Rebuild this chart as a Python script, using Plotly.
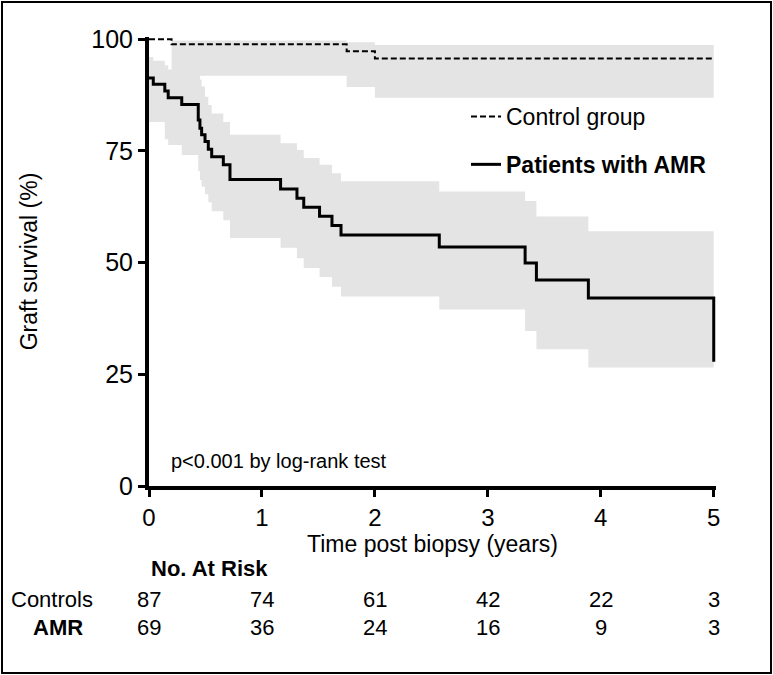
import plotly.graph_objects as go

# ---- data ----
ctrl_t = [0, 0.20, 1.75, 2.00, 5.00]
ctrl_s = [100, 98.85, 97.3, 95.7, 95.7]
ctrl_lo = [100, 91.8, 89.3, 86.9, 86.9]
ctrl_hi = [100, 99.7, 99.3, 98.7, 98.7]

amr_t = [0, 0.038, 0.14, 0.17, 0.29, 0.436, 0.451, 0.466, 0.496, 0.525, 0.555,
         0.658, 0.717, 1.165, 1.31, 1.37, 1.51, 1.62, 1.70, 2.57, 3.33, 3.43,
         3.89, 5.00, 5.00]
amr_s = [91.3, 89.9, 88.4, 86.9, 85.4, 81.9, 80.1, 78.6, 77.1, 75.4, 73.7,
         71.9, 68.6, 66.5, 64.4, 62.4, 60.4, 58.3, 56.2, 53.5, 49.9, 46.1,
         42.1, 42.1, 27.8]
amr_lo = [81.5, 81.5, 77.6, 76.3, 74.1, 70.5, 68.5, 67.0, 65.3, 63.5, 61.5,
          59.5, 55.5, 53.3, 51.0, 48.8, 46.8, 44.6, 42.4, 39.5, 34.7, 30.6,
          26.5, 26.5, 26.5]
amr_hi = [96.0, 95.2, 94.2, 93.2, 92.4, 92.0, 91.0, 89.4, 87.1, 85.3, 83.4,
          81.5, 78.6, 76.7, 75.2, 73.4, 71.9, 70.0, 68.2, 65.9, 63.8, 60.3,
          57.0, 57.0, 57.0]

risk_times = [0, 1, 2, 3, 4, 5]
risk_controls = [87, 74, 61, 42, 22, 3]
risk_amr = [69, 36, 24, 16, 9, 3]

x_ticks = [0, 1, 2, 3, 4, 5]
y_ticks = [0, 25, 50, 75, 100]

FONT = "Liberation Sans, Arial, sans-serif"
BAND = "#e4e4e4"

fig = go.Figure()

# confidence bands
for lo, hi, t in [(amr_lo, amr_hi, amr_t), (ctrl_lo, ctrl_hi, ctrl_t)]:
    fig.add_trace(go.Scatter(x=t, y=lo, mode="lines", line=dict(width=0, shape="hv", color=BAND),
                             showlegend=False, hoverinfo="skip"))
    fig.add_trace(go.Scatter(x=t, y=hi, mode="lines", line=dict(width=0, shape="hv", color=BAND),
                             fill="tonexty", fillcolor=BAND, showlegend=False, hoverinfo="skip"))

fig.add_trace(go.Scatter(x=ctrl_t, y=ctrl_s, mode="lines", name="Control group",
                         legendgroup="c",
                         line=dict(color="black", width=2, dash="6px,3px", shape="hv")))
fig.add_trace(go.Scatter(x=amr_t, y=amr_s, mode="lines", name="<b>Patients with AMR</b>",
                         legendgroup="a",
                         line=dict(color="black", width=3, shape="hv")))

# p-value text
fig.add_annotation(x=0.18, y=5.6, xref="x", yref="y", text="p<0.001 by log-rank test",
                   showarrow=False, xanchor="left", yanchor="middle",
                   font=dict(size=20, color="black", family=FONT))

# risk table
W, H = 567.0, 449.0
def py(p):
    return (486 - p) / H
def px(p):
    return (p - 149) / W

fig.add_annotation(x=0, y=py(568), xref="x", yref="paper", text="<b>No. At Risk</b>",
                   showarrow=False, xanchor="left", yanchor="middle",
                   font=dict(size=22, color="black", family=FONT))
fig.add_annotation(x=px(9), y=py(599), xref="paper", yref="paper", text="Controls",
                   showarrow=False, xanchor="left", yanchor="middle",
                   font=dict(size=22, color="black", family=FONT))
fig.add_annotation(x=px(85), y=py(627), xref="paper", yref="paper", text="<b>AMR</b>",
                   showarrow=False, xanchor="right", yanchor="middle",
                   font=dict(size=22, color="black", family=FONT))
for t, c, a in zip(risk_times, risk_controls, risk_amr):
    fig.add_annotation(x=t, y=py(599), xref="x", yref="paper", text=str(c), showarrow=False,
                       xanchor="center", yanchor="middle", font=dict(size=22, color="black", family=FONT))
    fig.add_annotation(x=t, y=py(627), xref="x", yref="paper", text=str(a), showarrow=False,
                       xanchor="center", yanchor="middle", font=dict(size=22, color="black", family=FONT))

# outer frame
fig.add_shape(type="rect", xref="paper", yref="paper",
              x0=px(2), x1=px(771), y0=py(673), y1=py(2),
              line=dict(color="black", width=2), fillcolor="rgba(0,0,0,0)", layer="above")

fig.update_layout(
    width=773, height=675,
    margin=dict(l=149, r=57, t=37, b=189, pad=0),
    paper_bgcolor="white", plot_bgcolor="white",
    font=dict(family=FONT, color="black"),
    showlegend=True,
    legend=dict(x=px(466), y=py(95), xanchor="left", yanchor="top",
                font=dict(size=23, color="black", family=FONT),
                bgcolor="rgba(0,0,0,0)", tracegroupgap=15, traceorder="grouped"),
    xaxis=dict(range=[0, 5.02], tickvals=x_ticks, ticktext=[str(v) for v in x_ticks],
               showline=True, linecolor="black", linewidth=4, ticks="outside",
               ticklen=7, tickwidth=3, tickcolor="black", showgrid=False, zeroline=False,
               tickfont=dict(size=24, color="black"),
               title=dict(text="Time post biopsy (years)", font=dict(size=23, color="black"), standoff=0)),
    yaxis=dict(range=[0, 100.5], tickvals=y_ticks, ticktext=[str(v) for v in y_ticks],
               showline=True, linecolor="black", linewidth=4, ticks="outside",
               ticklen=7, tickwidth=3, tickcolor="black", showgrid=False, zeroline=False,
               tickfont=dict(size=25, color="black"),
               title=dict(text="Graft survival (%)", font=dict(size=23, color="black"), standoff=48)),
)

fig.write_html("out.html", config={"displayModeBar": False},
               post_script="document.body.style.margin='0px';")
